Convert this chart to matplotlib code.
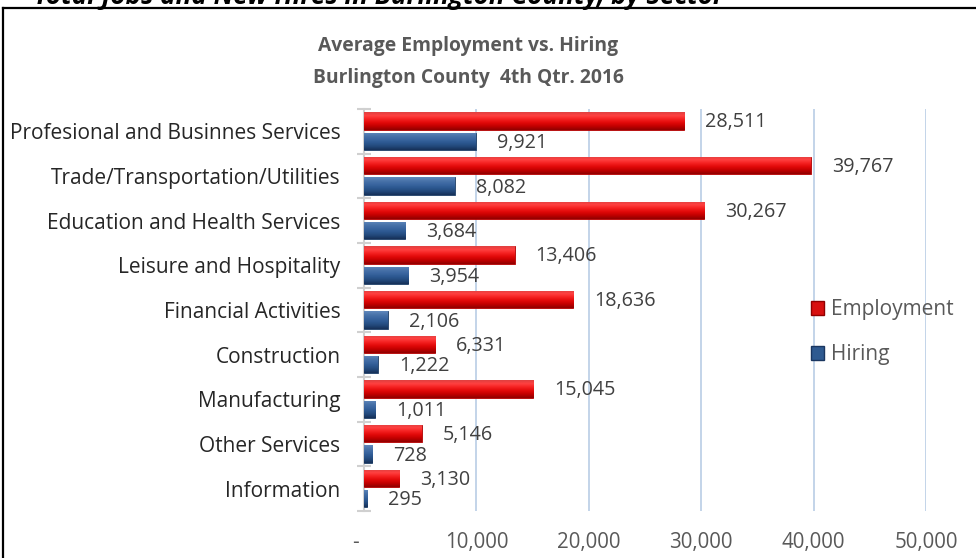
import numpy as np
import matplotlib
matplotlib.use("Agg")
import matplotlib.pyplot as plt
from matplotlib.colors import LinearSegmentedColormap
from matplotlib.patches import Patch
from matplotlib.lines import Line2D

plt.rcParams['font.family'] = ['Open Sans', 'DejaVu Sans']

# Burlington County, 4th Qtr. 2016
sectors = ["Profesional and Businnes Services", "Trade/Transportation/Utilities",
           "Education and Health Services", "Leisure and Hospitality",
           "Financial Activities", "Construction", "Manufacturing",
           "Other Services", "Information"]
employment = [28511, 39767, 30267, 13406, 18636, 6331, 15045, 5146, 3130]
hiring = [9921, 8082, 3684, 3954, 2106, 1222, 1011, 728, 295]
xticks = [0, 10000, 20000, 30000, 40000, 50000]
xticklabels = ["-   ", "10,000", "20,000", "30,000", "40,000", "50,000"]

W, H = 976, 558
fig = plt.figure(figsize=(W / 100, H / 100), dpi=100)
ax = fig.add_axes([364 / W, 1 - 511 / H, (926 - 364) / W, (511 - 109) / H])

y = np.arange(len(sectors))
red_bars = ax.barh(y - 0.232, employment, height=0.39, color="#e01010",
                   edgecolor="#b00000", linewidth=0.6, zorder=3)
blue_bars = ax.barh(y + 0.226, hiring, height=0.39, color="#2f5a90",
                    edgecolor="#1f3f66", linewidth=0.6, zorder=3)


def shade(bars, colors):
    # fake the Excel bevel look with a vertical gradient clipped to each bar
    cmap = LinearSegmentedColormap.from_list("g", colors)
    grad = np.linspace(0, 1, 64).reshape(-1, 1)
    for b in bars:
        x0, y0 = b.get_x(), b.get_y()
        w, h = b.get_width(), b.get_height()
        im = ax.imshow(grad, cmap=cmap, aspect="auto", interpolation="bilinear",
                       extent=(x0, x0 + w, y0 + h, y0), zorder=3.5)
        im.set_clip_path(b)


shade(red_bars, ["#e04040", "#ff4040", "#f42020", "#e00808", "#c00000", "#900000"])
shade(blue_bars, ["#6088bc", "#4a74aa", "#3a66a0", "#2c5890", "#22487a", "#163058"])

for bars, vals in [(red_bars, employment), (blue_bars, hiring)]:
    for b, v in zip(bars, vals):
        ax.annotate(f"{v:,}", (v, b.get_y() + b.get_height() / 2), xytext=(21, -1.5),
                    textcoords="offset pixels", va="center", ha="left",
                    fontsize=14.2, color="#404040")

ax.set_xlim(0, 50000)
ax.set_ylim(len(sectors) - 0.5, -0.5)
ax.set_xticks(xticks)
ax.set_xticklabels(xticklabels, fontsize=14.8, color="#595959")
ax.tick_params(axis="x", length=0, pad=15)
ax.set_yticks(y)
ax.set_yticklabels(sectors, fontsize=15, color="#262626")
ax.set_yticks(np.arange(len(sectors) + 1) - 0.5, minor=True)
ax.tick_params(axis="y", which="major", length=0, pad=17)
ax.tick_params(axis="y", which="minor", length=9.5, direction="inout",
               color="#d0d0d0", width=1.5)
ax.grid(axis="x", color="#b9cde5", linewidth=1.2, zorder=0)
for s in ["top", "right", "bottom"]:
    ax.spines[s].set_visible(False)
ax.spines["left"].set_color("#d0d0d0")
ax.spines["left"].set_linewidth(1.5)
ax.set_axisbelow(True)

handles = [Patch(facecolor="#d81010", edgecolor="#900000", label="Employment"),
           Patch(facecolor="#2f5a90", edgecolor="#1a3660", label="Hiring")]
leg = ax.legend(handles=handles, loc="upper left", bbox_to_anchor=(811 / W, 1 - 299 / H),
                bbox_transform=fig.transFigure, frameon=False, fontsize=15,
                handlelength=0.64, handleheight=0.64, handletextpad=0.3,
                labelspacing=1.15, borderpad=0, borderaxespad=0)
for t in leg.get_texts():
    t.set_color("#595959")

fig.text(468 / W, 1 - 46 / H, "Average Employment vs. Hiring", ha="center", va="center",
         fontsize=13.9, fontweight="bold", color="#595959")
fig.text(468 / W, 1 - 78 / H, "Burlington County  4th Qtr. 2016", ha="center", va="center",
         fontsize=13.9, fontweight="bold", color="#595959")

# heading above the chart box, cut off by the top of the picture
fig.text(34 / W, 1 - 4 / H, "Total Jobs and New Hires in Burlington County, by Sector",
         ha="left", va="baseline", fontsize=18.7, fontweight="bold", fontstyle="italic",
         color="black")

fig.add_artist(Line2D([3 / W, 3 / W], [0, 1 - 8 / H], color="black", linewidth=1.6))
fig.add_artist(Line2D([3 / W, 1], [1 - 8 / H, 1 - 8 / H], color="black", linewidth=1.6))

fig.savefig("out.png", dpi=100)
